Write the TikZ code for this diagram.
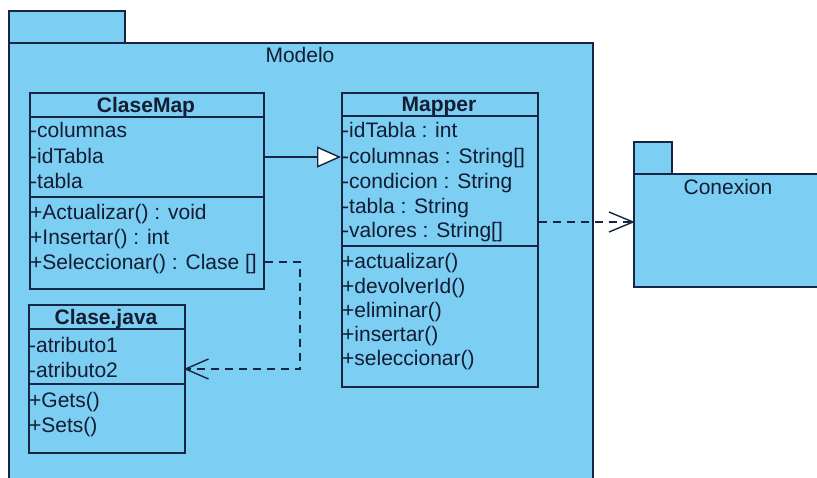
\documentclass[tikz,border=0pt]{standalone}
\usepackage{fontspec}
\setmainfont{Liberation Sans}
\usetikzlibrary{arrows.meta,calc}
\definecolor{pkgblue}{RGB}{124,206,242}
\definecolor{navy}{RGB}{22,38,66}
\definecolor{txt}{RGB}{18,28,50}
\tikzset{
  box/.style={draw=navy, line width=1.5pt, fill=pkgblue, inner sep=0pt, anchor=north west},
  row/.style={anchor=west, inner sep=0pt, text height=15pt, text depth=0pt, text=txt,
              font=\fontsize{21}{24}\selectfont},
  hdr/.style={inner sep=0pt, text height=15pt, text depth=0pt, text=txt,
              font=\fontsize{21}{24}\selectfont\bfseries},
  plabel/.style={inner sep=0pt, text=txt, font=\fontsize{21}{24}\selectfont},
  sep/.style={draw=navy, line width=1.5pt},
  gen/.style={draw=navy, line width=1.4pt, -{Triangle[length=24pt,width=21pt,fill=white,line width=1.4pt]}},
  dep/.style={draw=navy, line width=1.3pt, dash pattern=on 8pt off 6pt},
  barb/.style={draw=navy, line width=1.4pt, line join=miter},
}
\begin{document}
\begin{tikzpicture}[x=1pt,y=-1pt]
\useasboundingbox (0,0) rectangle (817,477);
\clip (0,0) rectangle (817,477);
\fill[white] (0,0) rectangle (817,477);

% Modelo package
\node[box, minimum width=116pt, minimum height=32pt] (mtab) at (8,10) {};
\node[box, minimum width=584pt, minimum height=460pt] (modelo) at (8,42) {};
\node[plabel] (mlabel) at (300,55) {Modelo};

% Conexion package
\node[box, minimum width=38pt, minimum height=32pt] (ctab) at (633,141) {};
\node[box, minimum width=220pt, minimum height=113pt] (cx) at (633,173) {};
\node[plabel] (clabel) at (728,187) {Conexion};

% ClaseMap
\node[box, minimum width=234pt, minimum height=196pt] (cm) at (29,92) {};
\draw[sep] (29,117) -- (263,117);
\draw[sep] (29,197) -- (263,197);
\node[hdr] (cmh) at (146,104.5) {ClaseMap};
\node[row] (cm1) at (30,130) {-columnas};
\node[row] (cm2) at (30,156) {-idTabla};
\node[row] (cm3) at (30,181) {-tabla};
\node[row] (cm4) at (30,212) {+Actualizar() : void};
\node[row] (cm5) at (30,237) {+Insertar() : int};
\node[row] (cm6) at (30,262) {+Seleccionar() : Clase []};

% Mapper
\node[box, minimum width=196pt, minimum height=294pt] (mp) at (341,92) {};
\draw[sep] (341,116) -- (537,116);
\draw[sep] (341,246) -- (537,246);
\node[hdr] (mph) at (439,104) {Mapper};
\node[row] (mp1) at (342,130) {-idTabla : int};
\node[row] (mp2) at (342,156) {-columnas : String[]};
\node[row] (mp3) at (342,181) {-condicion : String};
\node[row] (mp4) at (342,206) {-tabla : String};
\node[row] (mp5) at (342,230) {-valores : String[]};
\node[row] (mp6) at (342,261) {+actualizar()};
\node[row] (mp7) at (342,286) {+devolverId()};
\node[row] (mp8) at (342,310) {+eliminar()};
\node[row] (mp9) at (342,334) {+insertar()};
\node[row] (mp10) at (342,358) {+seleccionar()};

% Clase.java
\node[box, minimum width=156pt, minimum height=148pt] (cj) at (28,304) {};
\draw[sep] (28,329) -- (184,329);
\draw[sep] (28,384) -- (184,384);
\node[hdr] (cjh) at (106,316.5) {Clase.java};
\node[row] (cj1) at (29,345) {-atributo1};
\node[row] (cj2) at (29,370) {-atributo2};
\node[row] (cj3) at (29,400) {+Gets()};
\node[row] (cj4) at (29,425) {+Sets()};

% connectors
\coordinate (bend1) at (300,262);
\coordinate (bend2) at (300,369);
\coordinate (tipA) at (cj.east |- bend2);
\coordinate (tipB) at (cx.west |- 0,222);
\draw[gen] (cm.east |- 0,157) -- (mp.west |- 0,157);
\draw[dep] (cm.east |- bend1) -- (bend1) -- (bend2) -- (tipA);
\draw[barb] ($(tipA)+(23,-10)$) -- (tipA) -- ($(tipA)+(23,10)$);
\draw[dep] (mp.east |- 0,222) -- (tipB);
\draw[barb] ($(tipB)+(-24,-10)$) -- (tipB) -- ($(tipB)+(-24,10)$);
\end{tikzpicture}
\end{document}
